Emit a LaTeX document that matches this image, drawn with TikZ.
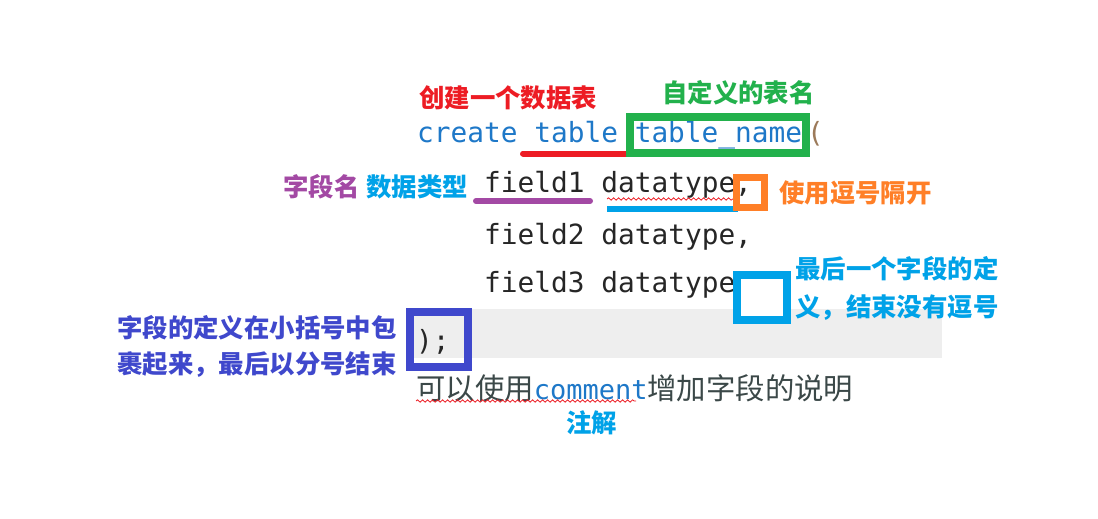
\documentclass[tikz,border=0pt]{standalone}
\usepackage{fontspec}
\usetikzlibrary{decorations.pathmorphing}
\newfontfamily\cjk{Noto Sans CJK SC}
\newfontfamily\mono{DejaVu Sans Mono}
\definecolor{cred}{HTML}{ED1C24}
\definecolor{cgreen}{HTML}{22B14C}
\definecolor{cpurple}{HTML}{A349A4}
\definecolor{cblue}{HTML}{00A2E8}
\definecolor{corange}{HTML}{FF7F27}
\definecolor{cindigo}{HTML}{3F48CC}
\definecolor{codeblue}{HTML}{1E78C8}
\definecolor{codeblack}{HTML}{262626}
\definecolor{paren}{HTML}{9C7A5A}
\definecolor{band}{HTML}{EEEEEE}
\definecolor{plain}{HTML}{3B4848}
\tikzset{
  lbl/.style={inner sep=0pt, anchor=west, font=\cjk\bfseries\fontsize{25.4}{30}\selectfont},
  code/.style={inner sep=0pt, anchor=base west, text=codeblack, font=\mono\fontsize{27.8}{32}\selectfont},
  markline/.style={line width=6pt, line cap=round},
  markbox/.style={line width=8pt},
  squiggle/.style={cred, line width=0.8pt, decorate, decoration={snake, segment length=5pt, amplitude=1.2pt}}
}
\begin{document}
\begin{tikzpicture}[x=1pt,y=-1pt]
\useasboundingbox[fill=white] (0,0) rectangle (1098,519);
% gray band
\fill[band] (413,309) rectangle (942,358);
% code lines
\node[code, text=codeblue] (l1) at (417,142) {create table table\_name};
\node[code, text=paren] (l1p) at (807,142) {(};
\node[code] (l2) at (484,192) {field1 datatype,};
\node[code] (l3) at (484,244) {field2 datatype,};
\node[code] (l4) at (484,292) {field3 datatype};
\node[code] (l5) at (416,350) {);};
% bottom text
\node[inner sep=0pt, anchor=west, text=plain, font=\cjk\fontsize{29.4}{34}\selectfont] (cmt) at (416,388)
  {可以使用{\mono\fontsize{27}{32}\selectfont\textcolor{codeblue}{comment}}增加字段的说明};
% spell-check squiggles
\draw[squiggle] (607,199) -- (735,199);
\draw[squiggle] (416,401) -- (636,401);
% labels
\node[lbl, text=cred] (t1) at (419,98) {创建一个数据表};
\node[lbl, text=cgreen] (t2) at (662,93) {自定义的表名};
\node[lbl, text=cpurple] (t3) at (283,187) {字段名};
\node[lbl, text=cblue] (t4) at (366,187) {数据类型};
\node[lbl, text=corange] (t5) at (779,193) {使用逗号隔开};
\node[lbl, text=cblue] (t6) at (795,269) {最后一个字段的定};
\node[lbl, text=cblue] (t7) at (795,308) {义，结束没有逗号};
\node[lbl, text=cindigo] (t8) at (117,328) {字段的定义在小括号中包};
\node[lbl, text=cindigo] (t9) at (117,365) {裹起来，最后以分号结束};
\node[lbl, text=cblue] (t10) at (566,423) {注解};
% underlines
\draw[markline, cred] (523,153.5) -- (626,153.5);
\draw[markline, cpurple] (476,201) -- (590,201);
\draw[markline, cblue, line cap=butt] (607,209) -- (738,209);
% boxes
\draw[markbox, cgreen] (630,117) rectangle (806,153);
\draw[line width=7pt, corange] (736.5,177.5) rectangle (764.5,207.5);
\draw[markbox, cblue, fill=white] (737,275) rectangle (787,320);
\draw[markbox, cindigo] (410,312) rectangle (468,367);
\end{tikzpicture}
\end{document}
